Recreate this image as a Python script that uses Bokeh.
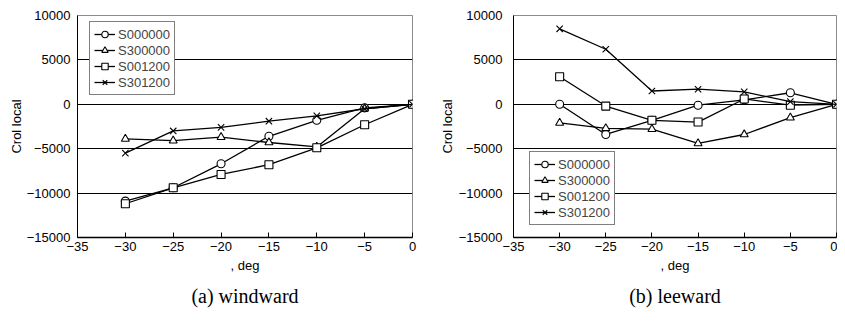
from bokeh.plotting import figure
from bokeh.layouts import row
from bokeh.models import FixedTicker, Legend, LegendItem, Title, Range1d
from bokeh.embed import file_html
from bokeh.resources import INLINE

angles = [-30, -25, -20, -15, -10, -5, 0]
series_names = ["S000000", "S300000", "S001200", "S301200"]
markers = ["circle", "triangle", "square", "x"]

# (a) windward
wind_S000000 = [-10900, -9400, -6700, -3600, -1800, -400, 0]
wind_S300000 = [-3900, -4100, -3700, -4300, -4800, -500, 0]
wind_S001200 = [-11200, -9400, -7900, -6800, -4900, -2300, 0]
wind_S301200 = [-5500, -3000, -2600, -1900, -1300, -500, 0]

# (b) leeward
lee_S000000 = [0, -3400, -1800, -100, 500, 1300, 0]
lee_S300000 = [-2100, -2700, -2800, -4400, -3400, -1500, 0]
lee_S001200 = [3100, -200, -1800, -2000, 600, -100, 0]
lee_S301200 = [8500, 6200, 1500, 1700, 1400, 300, 0]

x_ticks = [-35, -30, -25, -20, -15, -10, -5, 0]
y_ticks = [-15000, -10000, -5000, 0, 5000, 10000]

FONT = "Liberation Sans"
SERIF = "Liberation Serif"


def make_panel(data, caption, width, border_left, border_right, legend_loc,
               y_label_standoff, y_title_standoff):
    p = figure(width=width, height=313, output_backend="svg", toolbar_location=None,
               x_range=Range1d(-35, 0), y_range=Range1d(-15000, 10000),
               min_border_left=border_left, min_border_right=border_right,
               min_border_top=15, min_border_bottom=76)
    p.outline_line_color = "#8c8c8c"
    p.outline_line_width = 1
    p.background_fill_color = "white"
    p.border_fill_color = "white"

    p.xgrid.grid_line_color = None
    p.ygrid.grid_line_color = "black"
    p.ygrid.grid_line_width = 1
    p.ygrid.ticker = FixedTicker(ticks=y_ticks)

    p.xaxis.ticker = FixedTicker(ticks=x_ticks)
    p.yaxis.ticker = FixedTicker(ticks=y_ticks)
    for ax in (p.xaxis, p.yaxis):
        ax.major_label_text_font = FONT
        ax.major_label_text_font_size = "13px"
        ax.major_label_text_color = "black"
        ax.axis_label_text_font = FONT
        ax.axis_label_text_font_size = "13px"
        ax.axis_label_text_font_style = "normal"
        ax.axis_label_text_color = "black"
        ax.axis_line_color = "black"
        ax.minor_tick_line_color = None
    p.xaxis.axis_line_width = 1.5
    p.xaxis.major_tick_in = 5
    p.xaxis.major_tick_out = 0
    p.xaxis.major_tick_line_color = "black"
    p.xaxis.major_label_standoff = 4
    p.xaxis.axis_label = ", deg"
    p.xaxis.axis_label_standoff = 4
    p.yaxis.major_tick_in = 0
    p.yaxis.major_tick_out = 0
    p.yaxis.major_label_standoff = y_label_standoff
    p.yaxis.axis_label = "Crol local"
    p.yaxis.axis_label_standoff = y_title_standoff

    items = []
    for name, mk, vals in zip(series_names, markers, data):
        ln = p.line(angles, vals, line_color="black", line_width=1.3)
        sc = p.scatter(angles, vals, marker=mk, size=8 if mk != "x" else 9,
                       fill_color="white", line_color="black", line_width=1.1)
        items.append(LegendItem(label=name, renderers=[ln, sc]))

    legend = Legend(items=items, location=legend_loc)
    legend.border_line_color = "black"
    legend.border_line_width = 1
    legend.background_fill_color = "white"
    legend.background_fill_alpha = 1
    legend.label_text_font = FONT
    legend.label_text_font_size = "13px"
    legend.label_standoff = 3
    legend.glyph_width = 21
    legend.glyph_height = 16
    legend.label_height = 16
    legend.padding = 4
    legend.spacing = 0
    legend.margin = 0
    p.add_layout(legend, "center")

    t = Title(text=caption, align="center", text_font=SERIF, text_font_size="20px",
              text_font_style="normal", text_color="black", standoff=14)
    p.add_layout(t, "below")
    return p


p1 = make_panel([wind_S000000, wind_S300000, wind_S001200, wind_S301200],
                "(a) windward", 420, 77, 8, (12, 142), 7, 0)
p2 = make_panel([lee_S000000, lee_S300000, lee_S001200, lee_S301200],
                "(b) leeward", 417, 93, 1, (16, 12), 11, 1)

layout = row(p1, p2)
open("out.html", "w").write(file_html(layout, INLINE))
